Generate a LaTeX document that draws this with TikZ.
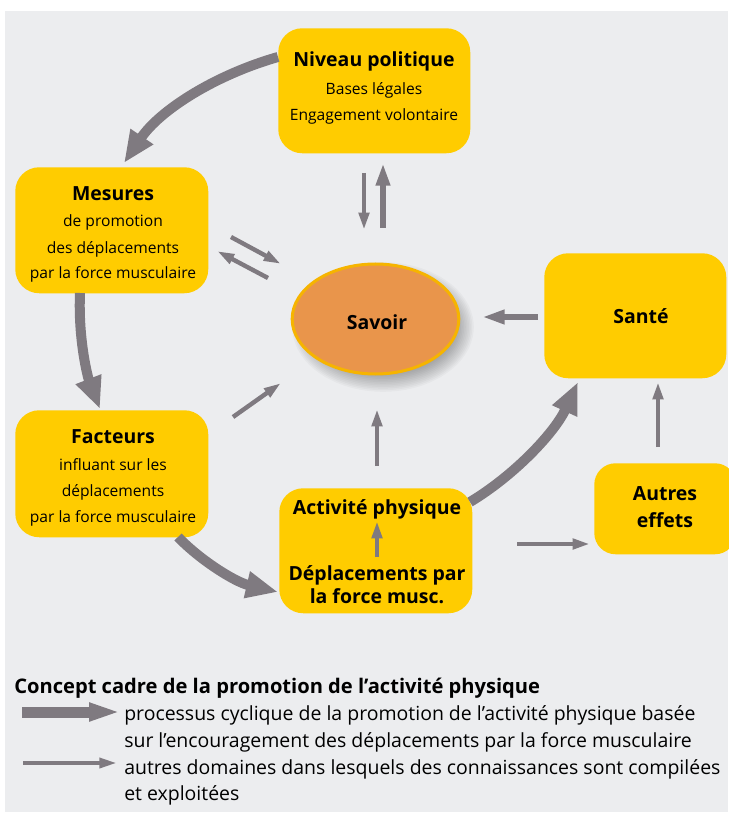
\documentclass[tikz,border=0pt]{standalone}
\usepackage{fontspec}
\setmainfont{Open Sans}
\usetikzlibrary{arrows.meta,shapes.geometric}
\definecolor{bgc}{RGB}{236,237,239}
\definecolor{boxy}{RGB}{255,204,0}
\definecolor{arr}{RGB}{127,122,128}
\definecolor{orng}{RGB}{233,149,75}
\definecolor{goldc}{RGB}{246,180,0}
\begin{document}
\begin{tikzpicture}[x=0.75pt,y=-0.75pt,
  ybox/.style={fill=boxy,draw=none,rounded corners=18pt,inner sep=0pt,anchor=north west},
  ttl/.style={font=\fontsize{14.6pt}{17pt}\selectfont\bfseries,inner sep=0pt,anchor=base},
  body/.style={font=\fontsize{11.7pt}{14pt}\selectfont,inner sep=0pt,anchor=base},
  leg/.style={font=\fontsize{14.6pt}{17pt}\selectfont,inner sep=0pt,anchor=base west},
  legt/.style={font=\fontsize{15.1pt}{17pt}\selectfont\bfseries,inner sep=0pt,anchor=base west},
  bigarrow/.style={draw=arr,line width=7.5pt,-{Triangle[width=19pt,length=24pt]}},
  medarrow/.style={draw=arr,line width=4.9pt,-{Triangle[width=10pt,length=17pt]}},
  thinarrow/.style={draw=arr,line width=3.3pt,-{Triangle[width=7.5pt,length=13pt]}},
  leggarrow/.style={draw=arr,line width=8.25pt,-{Triangle[width=12.5pt,length=24pt]}}
]
\useasboundingbox (0,0) rectangle (728,816);
\fill[white] (0,0) rectangle (728,816);
\fill[bgc] (5,11) rectangle (728,812);

% boxes
\node[ybox,minimum width=144pt,minimum height=93.75pt] (niv) at (278,28) {};
\node[ybox,minimum width=144.75pt,minimum height=94.5pt] (mes) at (15,167) {};
\node[ybox,minimum width=144.75pt,minimum height=95.25pt] (fac) at (15,410) {};
\node[ybox,minimum width=144.75pt,minimum height=93.75pt] (act) at (279,488) {};
\node[ybox,minimum width=136.5pt,minimum height=93.75pt] (san) at (544,253) {};
\node[ybox,minimum width=106.5pt,minimum height=68.25pt,rounded corners=16pt] (aut) at (594,463) {};

% soft shadow of the ellipse
\foreach \i in {0,...,13} {
  \fill[black,opacity=0.028] (383,327) ellipse [x radius={70+1.6*\i}, y radius={44+1.6*\i}];
}
% ellipse
\node[ellipse,draw=goldc,line width=2.25pt,fill=orng,minimum width=125pt,minimum height=82.5pt,inner sep=0pt] (sav) at (375.5,319) {};
\node[ttl] (savT) at (377,329) {Savoir};

% texts
\node[ttl] (nivT) at (374,67) {Niveau politique};
\node[body] (nivA) at (374,95) {Bases légales};
\node[body] (nivB) at (374,121) {Engagement volontaire};

\node[ttl] (mesT) at (113,201) {Mesures};
\node[body] (mesA) at (113,227) {de promotion};
\node[body] (mesB) at (113,253) {des déplacements};
\node[body] (mesC) at (113,279) {par la force musculaire};

\node[ttl] (facT) at (113,443) {Facteurs};
\node[body] (facA) at (113,470) {influant sur les};
\node[body] (facB) at (113,496) {déplacements};
\node[body] (facC) at (113,522) {par la force musculaire};

\node[ttl] (actT) at (377,514) {Activité physique};
\node[ttl] (actA) at (377,580) {Déplacements par};
\node[ttl] (actB) at (377,603) {la force musc.};

\node[ttl] (sanT) at (641,323) {Santé};
\node[ttl] (autA) at (665,500) {Autres};
\node[ttl] (autB) at (665,527) {effets};

% connector end points
\coordinate (nivL) at (278,57);
\coordinate (mesTop) at (124,163);
\coordinate (mesBot) at (80,293);
\coordinate (facTop) at (100,409);
\coordinate (facBot) at (178,537);
\coordinate (actL) at (278,592);
\coordinate (actR) at (470,502);
\coordinate (sanBL) at (578,382);

% big cycle arrows
\draw[bigarrow] (nivL) .. controls (215,75) and (160,110) .. (mesTop);
\draw[bigarrow] (mesBot) .. controls (78,340) and (88,378) .. (facTop);
\draw[bigarrow] (facBot) .. controls (200,560) and (235,582) .. (actL);
\draw[bigarrow] (actR) .. controls (515,475) and (555,432) .. (sanBL);

% thin arrows
\coordinate (nivS1) at (364,173);
\coordinate (savN1) at (364,230);
\coordinate (savN2) at (383,228);
\coordinate (nivS2) at (383,163);
\draw[thinarrow] (nivS1) -- (savN1);
\draw[medarrow] (savN2) -- (nivS2);

\coordinate (mesR1) at (231,237);
\coordinate (savW1) at (281,264);
\coordinate (savW2) at (268,278);
\coordinate (mesR2) at (217,251);
\draw[thinarrow] (mesR1) -- (savW1);
\draw[thinarrow] (savW2) -- (mesR2);

\coordinate (facR) at (233,417);
\coordinate (savSW) at (281,383);
\draw[thinarrow] (facR) -- (savSW);

\coordinate (actN) at (377,466);
\coordinate (savS) at (377,409);
\draw[thinarrow,line width=3.7pt] (actN) -- (savS);

\coordinate (sanW) at (538,317);
\coordinate (savE) at (482,317);
\draw[medarrow] (sanW) -- (savE);

\coordinate (autN) at (658,447);
\coordinate (sanS) at (658,382);
\draw[thinarrow] (autN) -- (sanS);

\coordinate (actE) at (517,544);
\coordinate (autW) at (590,544);
\draw[thinarrow] (actE) -- (autW);

\coordinate (actIn1) at (377,557);
\coordinate (actIn2) at (377,521);
\draw[thinarrow,line width=3.7pt] (actIn1) -- (actIn2);

% legend
\node[legt] (legT) at (14,693) {Concept cadre de la promotion de l’activité physique};
\coordinate (lg1a) at (22,712);
\coordinate (lg1b) at (121,712);
\draw[leggarrow] (lg1a) -- (lg1b);
\node[leg] (leg1) at (124,720) {processus cyclique de la promotion de l’activité physique basée};
\node[leg] (leg2) at (124,747) {sur l’encouragement des déplacements par la force musculaire};
\coordinate (lg2a) at (23,763);
\coordinate (lg2b) at (118,763);
\draw[thinarrow,line width=3.5pt,-{Triangle[width=7pt,length=14pt]}] (lg2a) -- (lg2b);
\node[leg] (leg3) at (124,774) {autres domaines dans lesquels des connaissances sont compilées};
\node[leg] (leg4) at (124,800) {et exploitées};
\end{tikzpicture}
\end{document}
